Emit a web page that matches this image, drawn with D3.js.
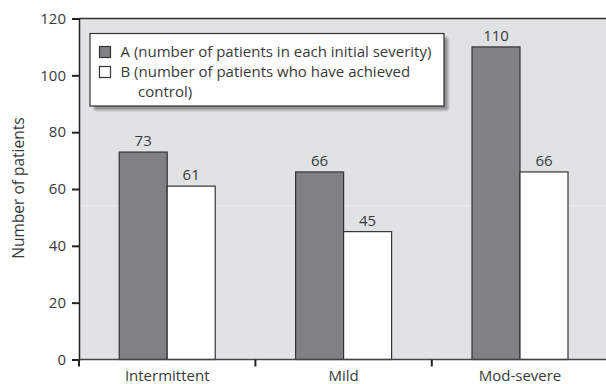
<!DOCTYPE html>
<html><head><meta charset="utf-8">
<script src="https://cdn.jsdelivr.net/npm/d3@7"></script>
<style>body{margin:0;background:#fff}svg{display:block}text{font-family:"Open Sans",sans-serif;fill:#3a3a3a}</style>
</head><body><svg id="c" width="606" height="384"></svg>
<script>
const categories = ["Intermittent", "Mild", "Mod-severe"];
const seriesNames = ["A", "B"];
const valuesA = [73, 66, 110];
const valuesB = [61, 45, 66];
const yTicks = [0, 20, 40, 60, 80, 100, 120];
const legendLines = [
  ["A (number of patients in each initial severity)"],
  ["B (number of patients who have achieved", "control)"]
];
const yTitle = "Number of patients";

const FONT = "Open Sans, sans-serif";
const FS = 15;
const svg = d3.select("#c");
const m = {l: 79, t: 18.5, b: 359.5};
const x = d3.scaleBand().domain(categories).range([m.l, m.l + 3 * 176.4]);
const y = d3.scaleLinear().domain([0, 120]).range([m.b, m.t]);
const barW = 48;
const x1 = d3.scaleBand().domain(seriesNames).range([x.bandwidth() / 2 - barW, x.bandwidth() / 2 + barW]);
const fills = {A: "#808184", B: "#ffffff"};

// plot background
svg.append("rect").attr("x", m.l).attr("y", m.t).attr("width", 606 - m.l).attr("height", m.b - m.t).attr("fill", "#e1e2e4");
svg.append("line").attr("x1", m.l + 1).attr("x2", 606).attr("y1", 206).attr("y2", 206).attr("stroke", "#ececee").attr("stroke-width", 1);
svg.append("line").attr("x1", m.l).attr("x2", 606).attr("y1", m.t).attr("y2", m.t).attr("stroke", "#333").attr("stroke-width", 1.5);

// bars
const data = [];
categories.forEach((c, i) => {
  data.push({c, s: "A", v: valuesA[i]});
  data.push({c, s: "B", v: valuesB[i]});
});
const g = svg.append("g");
g.selectAll("rect").data(data).join("rect")
  .attr("x", d => x(d.c) + x1(d.s))
  .attr("y", d => y(d.v))
  .attr("width", barW)
  .attr("height", d => y(0) - y(d.v))
  .attr("fill", d => fills[d.s])
  .attr("stroke", "#333").attr("stroke-width", 1.2);
g.selectAll("text").data(data).join("text")
  .attr("x", d => x(d.c) + x1(d.s) + barW / 2)
  .attr("y", d => y(d.v) - 6)
  .attr("text-anchor", "middle").attr("font-size", FS)
  .text(d => d.v);

// y axis
const ya = svg.append("g").attr("transform", `translate(${m.l},0)`)
  .call(d3.axisLeft(y).tickValues(yTicks).tickSize(7).tickPadding(6));
ya.select(".domain").attr("stroke", "#222").attr("stroke-width", 1.5);
ya.selectAll(".tick line").attr("stroke", "#222").attr("stroke-width", 2);
ya.selectAll(".tick text").attr("font-size", FS).attr("fill", "#3a3a3a").attr("font-family", FONT);

// x axis
const xa = svg.append("g").attr("transform", `translate(0,${m.b})`)
  .call(d3.axisBottom(x).tickSize(0).tickPadding(11));
xa.select(".domain").remove();
xa.selectAll(".tick text").attr("font-size", FS).attr("fill", "#3a3a3a").attr("font-family", FONT);
svg.append("line").attr("x1", m.l).attr("x2", 606).attr("y1", m.b).attr("y2", m.b).attr("stroke", "#444").attr("stroke-width", 1.5);
const bounds = categories.map(c => x(c));
svg.selectAll(".xt").data(bounds).join("line")
  .attr("x1", d => d).attr("x2", d => d).attr("y1", m.b).attr("y2", m.b + 7)
  .attr("stroke", "#222").attr("stroke-width", 2);

// y title
svg.append("text").attr("transform", "translate(23.5,188) rotate(-90)")
  .attr("text-anchor", "middle").attr("font-size", 15.5).text(yTitle);

// legend
const L = {x: 90, y: 33.5, w: 354, h: 72.5};
const defs = svg.append("defs");
const f = defs.append("filter").attr("id", "sh").attr("x", "-10%").attr("y", "-20%").attr("width", "130%").attr("height", "150%");
f.append("feGaussianBlur").attr("stdDeviation", 1.5);
svg.append("rect").attr("x", L.x + 4).attr("y", L.y + 4).attr("width", L.w).attr("height", L.h)
  .attr("fill", "#8a8b8d").attr("filter", "url(#sh)");
svg.append("rect").attr("x", L.x).attr("y", L.y).attr("width", L.w).attr("height", L.h)
  .attr("fill", "#fff").attr("stroke", "#333").attr("stroke-width", 1.2);
const lg = svg.append("g");
let row = 0;
seriesNames.forEach((s, i) => {
  const yy = 46.5 + row * 20;
  lg.append("rect").attr("x", 99.5).attr("y", yy).attr("width", 11).attr("height", 11)
    .attr("fill", fills[s]).attr("stroke", "#333").attr("stroke-width", 1.2);
  legendLines[i].forEach((t, j) => {
    lg.append("text").attr("x", j === 0 ? 120.5 : 138).attr("y", yy + 10.5 + j * 20)
      .attr("font-size", FS).text(t);
  });
  row += legendLines[i].length;
});
</script></body></html>
